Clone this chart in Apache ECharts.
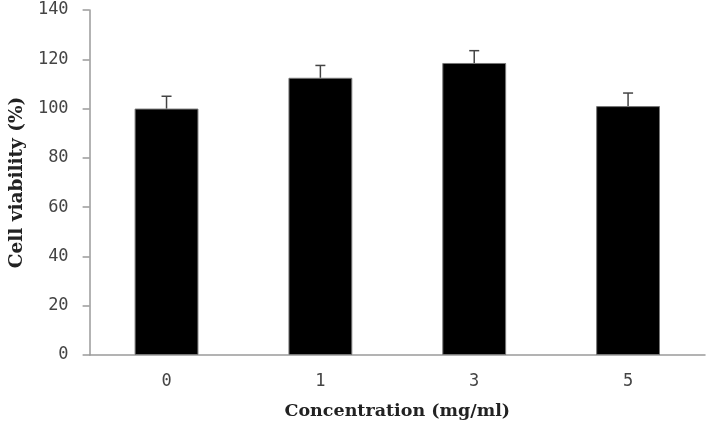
<!DOCTYPE html>
<html>
<head>
<meta charset="utf-8">
<script src="https://cdn.jsdelivr.net/npm/echarts@6/dist/echarts.min.js"></script>
<style>
  html, body { margin: 0; padding: 0; background: #fff; }
  #chart { width: 712px; height: 431px; }
</style>
</head>
<body>
<div id="chart"></div>
<script>
// data
const concentrations = ['0', '1', '3', '5']
const viability = [100, 112.5, 118.5, 101]
const viabilityErr = [5, 5, 5, 5.3]
const yTicks = [0, 20, 40, 60, 80, 100, 120, 140]

const chart = echarts.init(document.getElementById('chart'))

const errData = concentrations.map((c, i) => [i, viability[i], viability[i] + viabilityErr[i]])

chart.setOption({
  animation: false,
  grid: { left: 89, right: 7, top: 10, bottom: 76 },
  xAxis: {
    type: 'category',
    data: concentrations,
    name: 'Concentration (mg/ml)',
    nameLocation: 'middle',
    nameGap: 47,
    nameTextStyle: { fontFamily: 'DejaVu Serif', fontWeight: 'bold', fontSize: 17.5, color: '#222' },
    axisLine: { lineStyle: { color: '#9a9a9a', width: 1.5 } },
    axisTick: { length: 6, lineStyle: { color: '#9a9a9a', width: 1.5 } },
    axisLabel: { margin: 18, fontFamily: 'DejaVu Sans Mono', fontSize: 17, color: '#444' }
  },
  yAxis: {
    type: 'value',
    min: yTicks[0],
    max: yTicks[yTicks.length - 1],
    interval: 20,
    name: 'Cell viability (%)',
    nameLocation: 'middle',
    nameGap: 60,
    nameTextStyle: { fontFamily: 'DejaVu Serif', fontWeight: 'bold', fontSize: 18.5, color: '#222' },
    splitLine: { show: false },
    axisLine: { show: true, lineStyle: { color: '#9a9a9a', width: 1.5 } },
    axisTick: { show: true, length: 7, lineStyle: { color: '#9a9a9a', width: 1.5 } },
    axisLabel: { margin: 21, fontFamily: 'DejaVu Sans Mono', fontSize: 17, color: '#444' }
  },
  series: [
    {
      type: 'bar',
      data: viability,
      barWidth: '41.5%',
      itemStyle: { color: '#000', borderColor: '#777', borderWidth: 1 },
      z: 2
    },
    {
      type: 'custom',
      data: errData,
      z: 3,
      renderItem: function (params, api) {
        const base = api.coord([api.value(0), api.value(1)])
        const top = api.coord([api.value(0), api.value(2)])
        const half = 5
        const style = { stroke: '#444', lineWidth: 1.5 }
        return {
          type: 'group',
          children: [
            { type: 'line', shape: { x1: base[0], y1: base[1], x2: top[0], y2: top[1] }, style: style },
            { type: 'line', shape: { x1: top[0] - half, y1: top[1], x2: top[0] + half, y2: top[1] }, style: style }
          ]
        }
      }
    }
  ]
})
</script>
</body>
</html>
